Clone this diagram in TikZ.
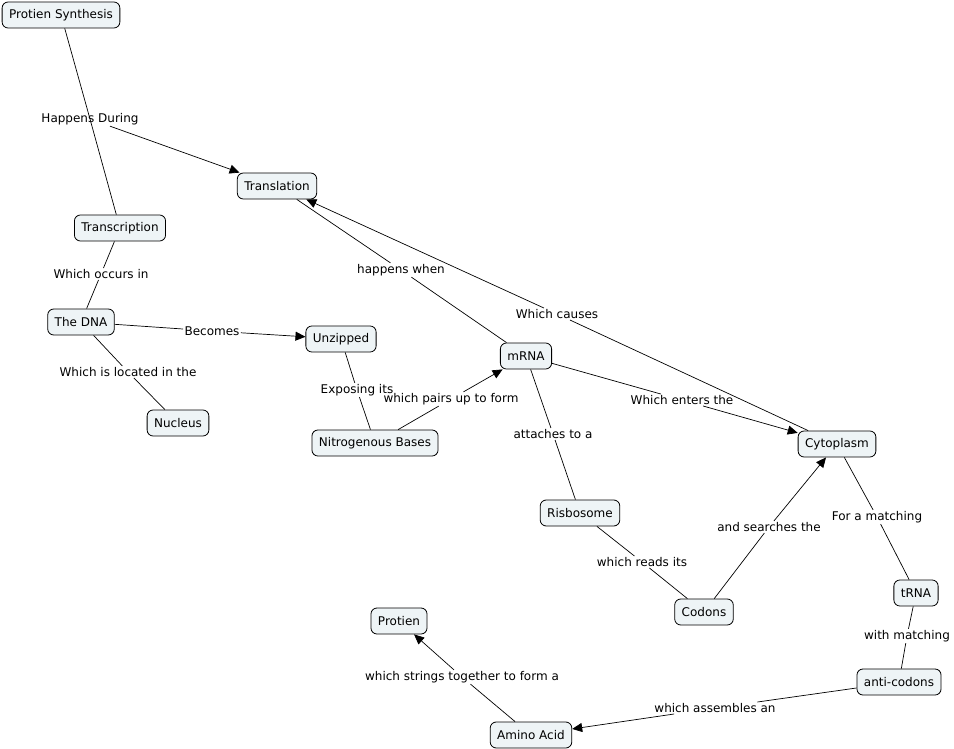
\documentclass[tikz,border=0pt]{standalone}
\usepackage{fontspec}
\setmainfont{DejaVu Sans}
\usetikzlibrary{arrows.meta}
\definecolor{cmapfill}{RGB}{238,244,246}
\tikzset{
  concept/.style={
    rectangle,
    rounded corners=6pt,
    minimum height=26pt,
    inner xsep=7pt,
    align=center,
    draw=black,
    line width=0.8pt,
    fill=cmapfill,
    font=\fontsize{12}{14}\selectfont
  },
  link/.style={
    inner sep=1pt,
    align=center,
    font=\fontsize{12}{14}\selectfont
  },
  arrow/.style={-{Triangle[length=10pt,width=9pt]}},
  every path/.append style={line width=0.7pt}
}

\begin{document}
\begin{tikzpicture}[x=1pt,y=-1pt]
    \useasboundingbox (0,0) rectangle (954,749);
    % concepts
    \node (ps)    [concept] at (61,15)   {Protien Synthesis};
    \node (trl)   [concept] at (277,186) {Translation};
    \node (trc)   [concept] at (120,228) {Transcription};
    \node (dna)   [concept] at (81,322)  {The DNA};
    \node (unz)   [concept] at (341,339) {Unzipped};
    \node (mrna)  [concept] at (526,356) {mRNA};
    \node (nuc)   [concept] at (178,423) {Nucleus};
    \node (nb)    [concept] at (375,443) {Nitrogenous Bases};
    \node (cyt)   [concept] at (837,444) {Cytoplasm};
    \node (ris)   [concept] at (580,513) {Risbosome};
    \node (cod)   [concept] at (704,612) {Codons};
    \node (trna)  [concept] at (916,593) {tRNA};
    \node (prot)  [concept] at (399,621) {Protien};
    \node (anti)  [concept] at (899,682) {anti-codons};
    \node (amino) [concept] at (531,735) {Amino Acid};
    % linking phrases
    \node (hd)  [link] at (90,119)  {Happens During};
    \node (woi) [link] at (101,274) {Which occurs in};
    \node (bec) [link] at (212,331) {Becomes};
    \node (wil) [link] at (128,372) {Which is located in the};
    \node (hw)  [link] at (401,270) {happens when};
    \node (wc)  [link] at (557,314) {Which causes};
    \node (exp) [link] at (357,390) {Exposing its};
    \node (wpu) [link] at (451,399) {which pairs up to form};
    \node (wet) [link] at (682,400) {Which enters the};
    \node (att) [link] at (553,434) {attaches to a};
    \node (ast) [link] at (769,527) {and searches the};
    \node (fam) [link] at (877,517) {For a matching};
    \node (wri) [link] at (642,562) {which reads its};
    \node (wm)  [link] at (907,636) {with matching};
    \node (wst) [link] at (462,677) {which strings together to form a};
    \node (wa)  [link] at (715,708) {which assembles an};
    % connectors
    \draw (ps) -- (hd.center) -- (trc);
    \draw[arrow] (hd) -- (trl);
    \draw (trc) -- (woi);
    \draw (woi) -- (dna);
    \draw (dna) -- (bec);
    \draw[arrow] (bec) -- (unz);
    \draw (dna) -- (wil);
    \draw (wil) -- (nuc);
    \draw (unz) -- (exp);
    \draw (exp) -- (nb);
    \draw (nb) -- (wpu);
    \draw[arrow] (wpu) -- (mrna);
    \draw (trl) -- (hw);
    \draw (hw) -- (mrna);
    \draw (mrna) -- (wet);
    \draw[arrow] (wet) -- (cyt);
    \draw (cyt) -- (wc);
    \draw[arrow] (wc) -- (trl);
    \draw (mrna) -- (att);
    \draw (att) -- (ris);
    \draw (ris) -- (wri);
    \draw (wri) -- (cod);
    \draw (cod) -- (ast);
    \draw[arrow] (ast) -- (cyt);
    \draw (cyt) -- (fam);
    \draw (fam) -- (trna);
    \draw (trna) -- (wm);
    \draw (wm) -- (anti);
    \draw (anti) -- (wa);
    \draw[arrow] (wa) -- (amino);
    \draw (amino) -- (wst);
    \draw[arrow] (wst) -- (prot);
\end{tikzpicture}
\end{document}
